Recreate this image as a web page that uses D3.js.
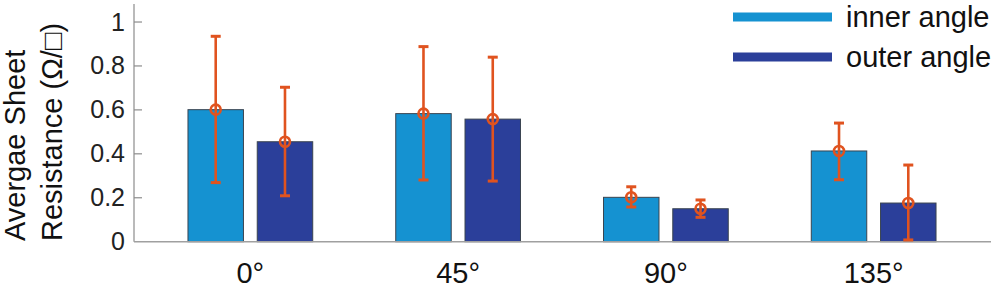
<!DOCTYPE html>
<html>
<head>
<meta charset="utf-8">
<script src="https://cdn.jsdelivr.net/npm/d3@7"></script>
<style>
  body { margin: 0; background: #fff; }
  svg { display: block; font-family: "Liberation Sans", Arial, sans-serif; }
</style>
</head>
<body>
<svg id="chart" width="1000" height="292"></svg>
<script>
// data
var categories = ["0°", "45°", "90°", "135°"];
var seriesNames = ["inner angle", "outer angle"];
var innerMean = [0.601, 0.583, 0.202, 0.413];
var innerLow  = [0.269, 0.281, 0.158, 0.282];
var innerHigh = [0.935, 0.888, 0.250, 0.540];
var outerMean = [0.455, 0.558, 0.150, 0.176];
var outerLow  = [0.209, 0.276, 0.111, 0.008];
var outerHigh = [0.703, 0.840, 0.190, 0.349];
var yTicks = [0, 0.2, 0.4, 0.6, 0.8, 1];

var colors = ["#1592d1", "#2b3f9a"];
var errColor = "#e0531f";

var svg = d3.select("#chart");

// category 1..4 on a linear scale, like matlab bar()
var x = d3.scaleLinear().domain([0.44, 4.56]).range([134, 990]);
var y = d3.scaleLinear().domain([0, 1.082]).range([241.7, 4]);

var barW = 0.267;
var offs = [-0.1667, 0.1667];

// build rows for both series
var rows = [];
categories.forEach(function(c, i) {
    rows.push({ s: 0, i: i, mean: innerMean[i], lo: innerLow[i], hi: innerHigh[i] });
    rows.push({ s: 1, i: i, mean: outerMean[i], lo: outerLow[i], hi: outerHigh[i] });
});

// bars
svg.selectAll(".bar")
    .data(rows)
    .enter().append("rect")
    .attr("class", "bar")
    .attr("x", function(d) { return x(d.i + 1 + offs[d.s] - barW / 2); })
    .attr("width", function(d) { return x(barW) - x(0); })
    .attr("y", function(d) { return y(d.mean); })
    .attr("height", function(d) { return y(0) - y(d.mean); })
    .attr("fill", function(d) { return colors[d.s]; })
    .attr("stroke", "#3a4450")
    .attr("stroke-width", 1);

// y axis
var yAxis = d3.axisLeft(y).tickValues(yTicks).tickSize(0).tickPadding(9)
    .tickFormat(function(d) { return d === 0 || d === 1 ? d3.format("d")(d) : d3.format(".1f")(d); });
var ya = svg.append("g").attr("transform", "translate(134,0)").call(yAxis);
ya.select(".domain").remove();
ya.selectAll("text").attr("font-size", 25).attr("fill", "#222").attr("font-family", "Liberation Sans, Arial, sans-serif");

svg.append("line")
    .attr("x1", 134).attr("x2", 134)
    .attr("y1", y.range()[1]).attr("y2", y(0))
    .attr("stroke", "#8c8c8c").attr("stroke-width", 1.2);

svg.selectAll(".ytick")
    .data(yTicks.filter(function(d) { return d > 0; }))
    .enter().append("line")
    .attr("x1", 134).attr("x2", 142)
    .attr("y1", function(d) { return y(d); })
    .attr("y2", function(d) { return y(d); })
    .attr("stroke", "#8c8c8c").attr("stroke-width", 1.2);

// baseline
svg.append("line")
    .attr("x1", 134).attr("x2", 991)
    .attr("y1", y(0)).attr("y2", y(0))
    .attr("stroke", "#a0a0a0").attr("stroke-width", 1.6);

// x labels
svg.selectAll(".xlab")
    .data(categories)
    .enter().append("text")
    .attr("x", function(d, i) { return x(i + 1); })
    .attr("y", 283)
    .attr("text-anchor", "middle")
    .attr("font-size", 29)
    .attr("fill", "#111")
    .text(function(d) { return d; });

// error bars
var eg = svg.selectAll(".err")
    .data(rows)
    .enter().append("g")
    .attr("class", "err")
    .attr("transform", function(d) { return "translate(" + x(d.i + 1 + offs[d.s]) + ",0)"; });

eg.append("line")
    .attr("y1", function(d) { return y(d.lo); })
    .attr("y2", function(d) { return y(d.hi); })
    .attr("stroke", errColor).attr("stroke-width", 2.6);

eg.selectAll(".cap")
    .data(function(d) { return [d.lo, d.hi]; })
    .enter().append("line")
    .attr("x1", -5).attr("x2", 5)
    .attr("y1", function(v) { return y(v); })
    .attr("y2", function(v) { return y(v); })
    .attr("stroke", errColor).attr("stroke-width", 3);

eg.append("circle")
    .attr("cy", function(d) { return y(d.mean); })
    .attr("r", 5)
    .attr("fill", "none")
    .attr("stroke", errColor).attr("stroke-width", 2.6);

// legend
var lg = svg.selectAll(".leg")
    .data(seriesNames)
    .enter().append("g")
    .attr("transform", function(d, i) { return "translate(0," + (i * 40) + ")"; });

lg.append("line")
    .attr("x1", 733).attr("x2", 832)
    .attr("y1", 17).attr("y2", 17)
    .attr("stroke", function(d, i) { return colors[i]; })
    .attr("stroke-width", 9);

lg.append("text")
    .attr("x", 846)
    .attr("y", 27)
    .attr("font-size", 29)
    .attr("fill", "#111")
    .text(function(d) { return d; });

// y label, two lines
var ylab = svg.append("text")
    .attr("transform", "translate(0,241) rotate(-90)")
    .attr("font-size", 29)
    .attr("fill", "#111");
ylab.append("tspan").attr("x", 0).attr("y", 25).text("Avergae Sheet");
ylab.append("tspan").attr("x", 0).attr("y", 62).text("Resistance (Ω/□)");
</script>
</body>
</html>
